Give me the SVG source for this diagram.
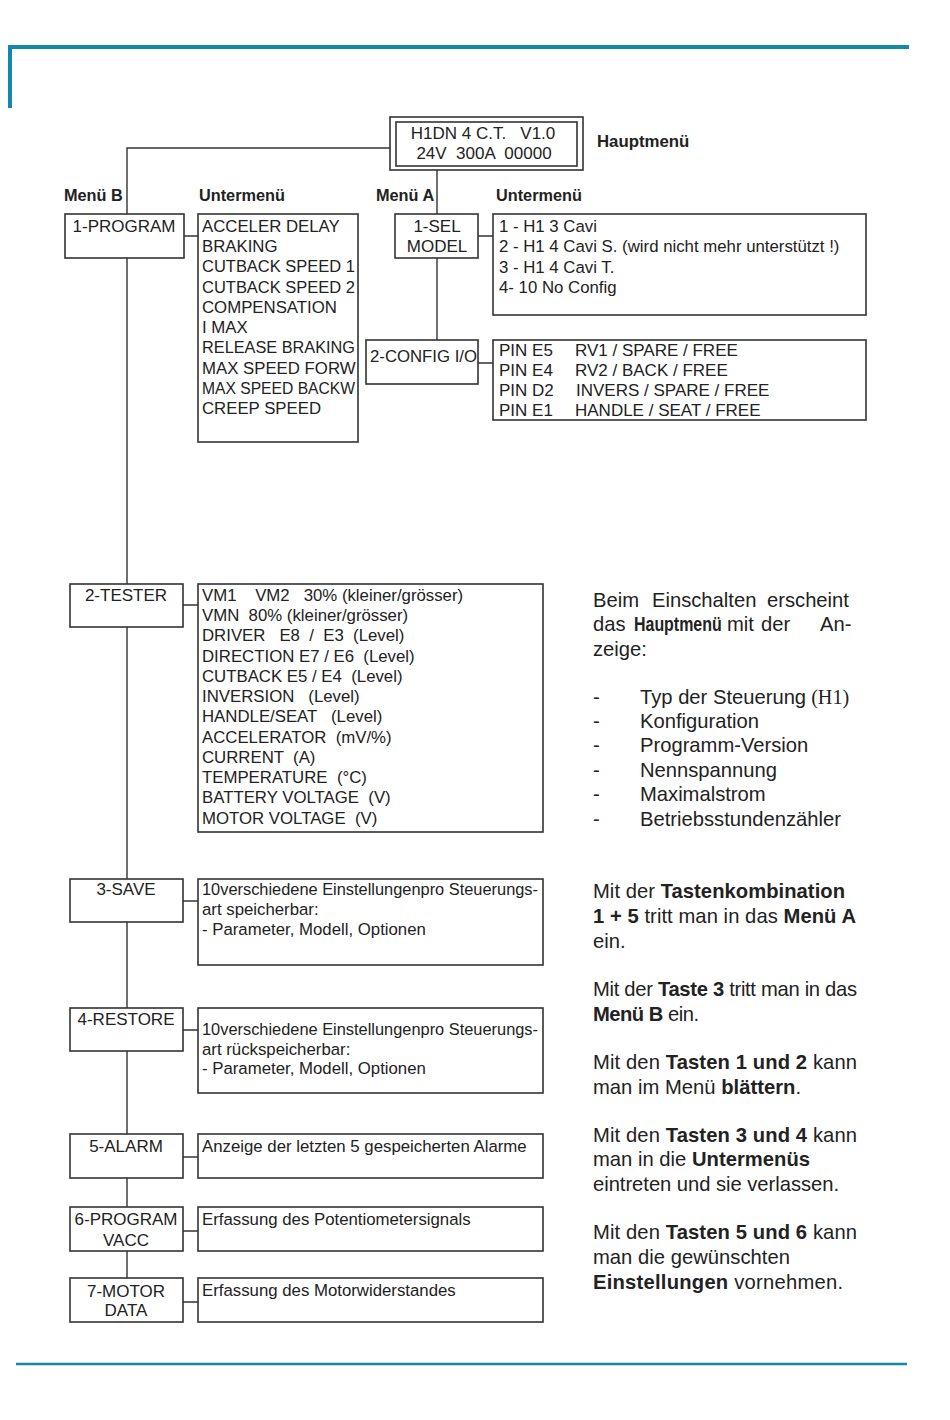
<svg xmlns="http://www.w3.org/2000/svg" width="950" height="1420" viewBox="0 0 950 1420">
<style>
text{font-family:"Liberation Sans",Arial,sans-serif;fill:#222;white-space:pre}
.b{font-size:16.8px}
.k{font-size:17px}
.h{font-size:16.3px;font-weight:bold}
.r{font-size:20.2px}
.bo{font-weight:bold}
.c{text-anchor:middle}
.box{fill:#fff;stroke:#333;stroke-width:1.6}
.ln{stroke:#333;stroke-width:1.4;fill:none}
.rule{stroke:#1488a8;fill:none}
</style>
<rect width="950" height="1420" fill="#fff"/>
<g id="frame">
<path class="rule" stroke-width="4" d="M10 108V47H909"/>
<path class="rule" stroke-width="2.5" d="M16 1364H907"/>
</g>
<g id="connectors">
<path class="ln" d="M390 148H127V1278"/>
<path class="ln" d="M437 170V340"/>
<path class="ln" d="M184 236H198M478 236H493M478 363H493M183 605H198M183 901H198M183 1030H198M183 1157H198M183 1231H198M183 1302H198"/>
</g>
<g id="labels">
<text class="h" x="64" y="201">Menü B</text>
<text class="h" x="199" y="201">Untermenü</text>
<text class="h" x="376" y="201">Menü A</text>
<text class="h" x="496" y="201">Untermenü</text>
<text class="h" x="597" y="147" style="font-size:16.8px">Hauptmenü</text>
</g>
<g id="main">
<rect class="box" x="390" y="117" width="193" height="53"/>
<rect class="box" x="396" y="122" width="181" height="44"/>
<text class="k c" x="483" y="139">H1DN 4 C.T.   V1.0</text>
<text class="k c" x="484" y="159">24V  300A  00000</text>
</g>
<g id="program">
<rect class="box" x="65" y="214" width="119" height="44"/>
<text class="k c" x="124" y="232">1-PROGRAM</text>
</g>
<g id="program-sub">
<rect class="box" x="198" y="214" width="160" height="228"/>
<text class="b" x="202" y="232">ACCELER DELAY</text>
<text class="b" x="202" y="252">BRAKING</text>
<text class="b" x="202" y="272" textLength="153" lengthAdjust="spacingAndGlyphs">CUTBACK SPEED 1</text>
<text class="b" x="202" y="293" textLength="153" lengthAdjust="spacingAndGlyphs">CUTBACK SPEED 2</text>
<text class="b" x="202" y="313">COMPENSATION</text>
<text class="b" x="202" y="333">I MAX</text>
<text class="b" x="202" y="353" textLength="153" lengthAdjust="spacingAndGlyphs">RELEASE BRAKING</text>
<text class="b" x="202" y="374">MAX SPEED FORW</text>
<text class="b" x="202" y="394" textLength="153" lengthAdjust="spacingAndGlyphs">MAX SPEED BACKW</text>
<text class="b" x="202" y="414">CREEP SPEED</text>
</g>
<g id="selmodel">
<rect class="box" x="395" y="214" width="83" height="44"/>
<text class="k c" x="437" y="232">1-SEL</text>
<text class="k c" x="437" y="252">MODEL</text>
</g>
<g id="selmodel-sub">
<rect class="box" x="493" y="214" width="373" height="101"/>
<text class="b" x="499" y="232">1 - H1 3 Cavi</text>
<text class="b" x="499" y="252">2 - H1 4 Cavi S. (wird nicht mehr unterstützt !)</text>
<text class="b" x="499" y="273">3 - H1 4 Cavi T.</text>
<text class="b" x="499" y="293">4- 10 No Config</text>
</g>
<g id="config">
<rect class="box" x="366" y="340" width="112" height="44"/>
<text class="k" x="370" y="362" textLength="107" lengthAdjust="spacingAndGlyphs">2-CONFIG I/O</text>
</g>
<g id="config-sub">
<rect class="box" x="493" y="340" width="373" height="80"/>
<text class="k" x="499" y="356">PIN E5</text><text class="k" x="575" y="356">RV1 / SPARE / FREE</text>
<text class="k" x="499" y="376">PIN E4</text><text class="k" x="575" y="376">RV2 / BACK / FREE</text>
<text class="k" x="499" y="396">PIN D2</text><text class="k" x="576" y="396">INVERS / SPARE / FREE</text>
<text class="k" x="499" y="416">PIN E1</text><text class="k" x="575" y="416">HANDLE / SEAT / FREE</text>
</g>
<g id="tester">
<rect class="box" x="70" y="584" width="113" height="43"/>
<text class="k c" x="126" y="601">2-TESTER</text>
</g>
<g id="tester-sub">
<rect class="box" x="198" y="584" width="345" height="248"/>
<text class="b" x="202" y="601">VM1    VM2   30% (kleiner/grösser)</text>
<text class="b" x="202" y="621">VMN  80% (kleiner/grösser)</text>
<text class="b" x="202" y="641">DRIVER   E8  /  E3  (Level)</text>
<text class="b" x="202" y="662">DIRECTION E7 / E6  (Level)</text>
<text class="b" x="202" y="682">CUTBACK E5 / E4  (Level)</text>
<text class="b" x="202" y="702">INVERSION   (Level)</text>
<text class="b" x="202" y="722">HANDLE/SEAT   (Level)</text>
<text class="b" x="202" y="743">ACCELERATOR  (mV/%)</text>
<text class="b" x="202" y="763">CURRENT  (A)</text>
<text class="b" x="202" y="783">TEMPERATURE  (°C)</text>
<text class="b" x="202" y="803">BATTERY VOLTAGE  (V)</text>
<text class="b" x="202" y="824">MOTOR VOLTAGE  (V)</text>
</g>
<g id="save">
<rect class="box" x="70" y="879" width="113" height="43"/>
<text class="k c" x="126" y="895">3-SAVE</text>
</g>
<g id="save-sub">
<rect class="box" x="198" y="879" width="345" height="86"/>
<text class="b" x="202" y="895" textLength="336" lengthAdjust="spacingAndGlyphs">10verschiedene Einstellungenpro Steuerungs-</text>
<text class="b" x="202" y="915">art speicherbar:</text>
<text class="b" x="202" y="935">- Parameter, Modell, Optionen</text>
</g>
<g id="restore">
<rect class="box" x="70" y="1008" width="113" height="43"/>
<text class="k c" x="126" y="1025">4-RESTORE</text>
</g>
<g id="restore-sub">
<rect class="box" x="198" y="1008" width="345" height="85"/>
<text class="b" x="202" y="1035" textLength="336" lengthAdjust="spacingAndGlyphs">10verschiedene Einstellungenpro Steuerungs-</text>
<text class="b" x="202" y="1055">art rückspeicherbar:</text>
<text class="b" x="202" y="1074">- Parameter, Modell, Optionen</text>
</g>
<g id="alarm">
<rect class="box" x="70" y="1134" width="113" height="44"/>
<text class="k c" x="126" y="1152">5-ALARM</text>
</g>
<g id="alarm-sub">
<rect class="box" x="198" y="1134" width="345" height="44"/>
<text class="b" x="202" y="1152">Anzeige der letzten 5 gespeicherten Alarme</text>
</g>
<g id="vacc">
<rect class="box" x="70" y="1207" width="113" height="44"/>
<text class="k c" x="126" y="1225">6-PROGRAM</text>
<text class="k c" x="126" y="1246">VACC</text>
</g>
<g id="vacc-sub">
<rect class="box" x="198" y="1207" width="345" height="44"/>
<text class="b" x="202" y="1225">Erfassung des Potentiometersignals</text>
</g>
<g id="motor">
<rect class="box" x="70" y="1278" width="113" height="44"/>
<text class="k c" x="126" y="1297">7-MOTOR</text>
<text class="k c" x="126" y="1316">DATA</text>
</g>
<g id="motor-sub">
<rect class="box" x="198" y="1278" width="345" height="44"/>
<text class="b" x="202" y="1296">Erfassung des Motorwiderstandes</text>
</g>
<g id="notes">
<text class="r" y="607"><tspan x="593">Beim</tspan><tspan x="652">Einschalten</tspan><tspan x="767">erscheint</tspan></text>
<text class="r" x="593" y="631">das</text>
<text class="r bo" transform="translate(634 631) scale(0.79 1)">Hauptmenü</text>
<text class="r" x="727" y="631">mit</text>
<text class="r" x="761" y="631">der</text>
<text class="r" x="820" y="631">An-</text>
<text class="r" x="593" y="656">zeige:</text>
<text class="r" x="593" y="704">-</text><text class="r" x="640" y="704">Typ der Steuerung<tspan style="font-family:'Liberation Serif',serif"> (H1)</tspan></text>
<text class="r" x="593" y="728">-</text><text class="r" x="640" y="728">Konfiguration</text>
<text class="r" x="593" y="752">-</text><text class="r" x="640" y="752">Programm-Version</text>
<text class="r" x="593" y="777">-</text><text class="r" x="640" y="777">Nennspannung</text>
<text class="r" x="593" y="801">-</text><text class="r" x="640" y="801">Maximalstrom</text>
<text class="r" x="593" y="826">-</text><text class="r" x="640" y="826">Betriebsstundenzähler</text>
<text class="r" x="593" y="898" textLength="252" lengthAdjust="spacing">Mit der <tspan class="bo">Tastenkombination</tspan></text>
<text class="r" x="593" y="923" textLength="263" lengthAdjust="spacing"><tspan class="bo">1 + 5</tspan> tritt man in das <tspan class="bo">Menü A</tspan></text>
<text class="r" x="593" y="948">ein.</text>
<text class="r" x="593" y="996" textLength="264" lengthAdjust="spacing">Mit der <tspan class="bo">Taste 3</tspan> tritt man in das</text>
<text class="r" x="593" y="1021" textLength="106" lengthAdjust="spacing"><tspan class="bo">Menü B</tspan> ein.</text>
<text class="r" x="593" y="1069" textLength="264" lengthAdjust="spacing">Mit den <tspan class="bo">Tasten 1 und 2</tspan> kann</text>
<text class="r" x="593" y="1094" textLength="208" lengthAdjust="spacing">man im Menü <tspan class="bo">blättern</tspan>.</text>
<text class="r" x="593" y="1142" textLength="264" lengthAdjust="spacing">Mit den <tspan class="bo">Tasten 3 und 4</tspan> kann</text>
<text class="r" x="593" y="1166" textLength="217" lengthAdjust="spacing">man in die <tspan class="bo">Untermenüs</tspan></text>
<text class="r" x="593" y="1191" textLength="246" lengthAdjust="spacing">eintreten und sie verlassen.</text>
<text class="r" x="593" y="1239" textLength="264" lengthAdjust="spacing">Mit den <tspan class="bo">Tasten 5 und 6</tspan> kann</text>
<text class="r" x="593" y="1264" textLength="197" lengthAdjust="spacing">man die gewünschten</text>
<text class="r" x="593" y="1289" textLength="250" lengthAdjust="spacing"><tspan class="bo">Einstellungen</tspan> vornehmen.</text>
</g>
</svg>
